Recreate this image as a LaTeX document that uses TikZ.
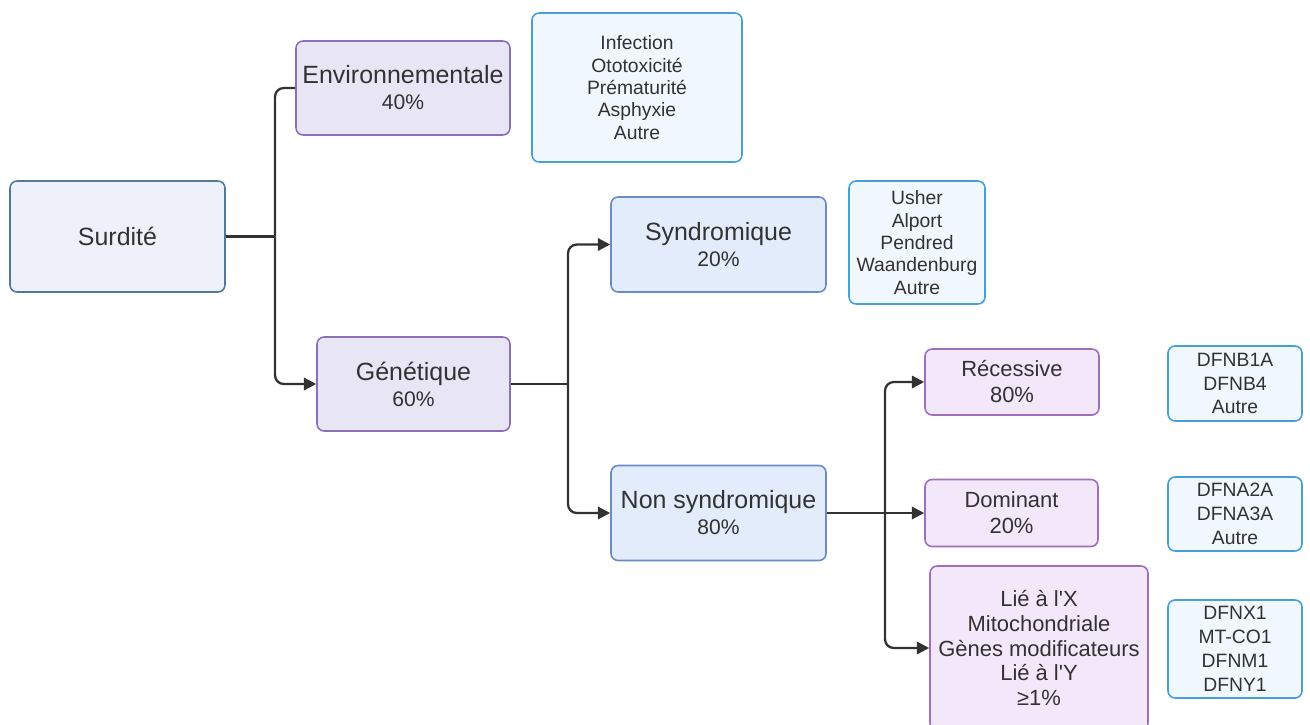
\documentclass[tikz,border=0pt]{standalone}
\usepackage{fontspec}
\setmainfont{Liberation Sans}
\usetikzlibrary{arrows.meta}

\definecolor{txt}{RGB}{50,50,50}
\definecolor{rootline}{RGB}{82,120,155}
\definecolor{rootfill}{RGB}{238,241,250}
\definecolor{causeline}{RGB}{140,110,185}
\definecolor{causefill}{RGB}{232,230,245}
\definecolor{typeline}{RGB}{105,140,200}
\definecolor{typefill}{RGB}{227,236,250}
\definecolor{modeline}{RGB}{160,110,190}
\definecolor{modefill}{RGB}{242,232,250}
\definecolor{listline}{RGB}{70,160,215}
\definecolor{listfill}{RGB}{240,248,253}

\newcommand{\titre}[1]{{\fontsize{14.2}{14.8}\selectfont #1}}

\begin{document}
\begin{tikzpicture}[x=0.02cm,y=-0.02cm,
  box/.style={rectangle,rounded corners=4pt,line width=0.9pt,text=txt,align=center,inner sep=0pt},
  root/.style={box,draw=rootline,fill=rootfill,font=\fontsize{14.2}{14.8}\selectfont},
  cause/.style={box,draw=causeline,fill=causefill,font=\fontsize{12}{14.8}\selectfont},
  type/.style={box,draw=typeline,fill=typefill,font=\fontsize{12}{14.8}\selectfont},
  mode/.style={box,draw=modeline,fill=modefill,font=\fontsize{12.5}{14.8}\selectfont},
  list/.style={box,draw=listline,fill=listfill,font=\fontsize{11}{12.7}\selectfont},
  genes/.style={list,font=\fontsize{11}{13.6}\selectfont},
  conn/.style={draw=txt,line width=1.3pt,rounded corners=5pt},
  connarrow/.style={conn,-{Triangle[length=7pt,width=7pt]}}]
\useasboundingbox (0,0) rectangle (1310,724);

% causes
\node (surd) at (117.5,236.5) [root,minimum width=4.3cm,minimum height=2.22cm]{Surdité};
\node (env) at (403,88) [cause,minimum width=4.28cm,minimum height=1.88cm]{\titre{Environnementale}\\40\%};
\node (gen) at (413.5,384) [cause,minimum width=3.86cm,minimum height=1.88cm]{\titre{Génétique}\\60\%};
\node (envlist) at (637,87.5) [list,minimum width=4.2cm,minimum height=2.98cm]{Infection\\Ototoxicité\\Prématurité\\Asphyxie\\Autre};

% genetic types
\node (syn) at (718.5,244.5) [type,minimum width=4.3cm,minimum height=1.9cm]{\titre{Syndromique}\\20\%};
\node (synlist) at (917,242.5) [list,minimum width=2.72cm,minimum height=2.46cm]{Usher\\Alport\\Pendred\\Waandenburg\\Autre};
\node (nsyn) at (718.5,513) [type,minimum width=4.3cm,minimum height=1.9cm]{\titre{Non syndromique}\\80\%};

% transmission
\node (rec) at (1012,382) [mode,minimum width=3.48cm,minimum height=1.32cm]{Récessive\\80\%};
\node (dom) at (1011.5,513) [mode,minimum width=3.46cm,minimum height=1.34cm]{Dominant\\20\%};
\node (lie) at (1039,648) [mode,minimum width=4.36cm,minimum height=3.28cm,font=\fontsize{12.5}{14.2}\selectfont]{Lié à l\textquotesingle X\\Mitochondriale\\Gènes modificateurs\\Lié à l\textquotesingle Y\\≥1\%};
\node (reclist) at (1235,383.5) [genes,minimum width=2.68cm,minimum height=1.5cm]{DFNB1A\\DFNB4\\Autre};
\node (domlist) at (1235,514) [genes,minimum width=2.68cm,minimum height=1.48cm]{DFNA2A\\DFNA3A\\Autre};
\node (lielist) at (1235,649) [genes,minimum width=2.68cm,minimum height=1.96cm]{DFNX1\\MT-CO1\\DFNM1\\DFNY1};

\coordinate (j1) at (275,236.5);
\coordinate (j2) at (568,384);
\coordinate (j3) at (885,513);

\draw[conn] (surd.east) -- (j1);
\draw[conn] (j1) |- (env.west);
\draw[connarrow] (j1) |- (gen.west);

\draw[conn] (gen.east) -- (j2);
\draw[connarrow] (j2) |- (syn.west);
\draw[connarrow] (j2) |- (nsyn.west);

\draw[connarrow] (nsyn.east) -- (dom.west);
\draw[connarrow] (j3) |- (rec.west);
\draw[connarrow] (j3) |- (lie.west);

\end{tikzpicture}
\end{document}
